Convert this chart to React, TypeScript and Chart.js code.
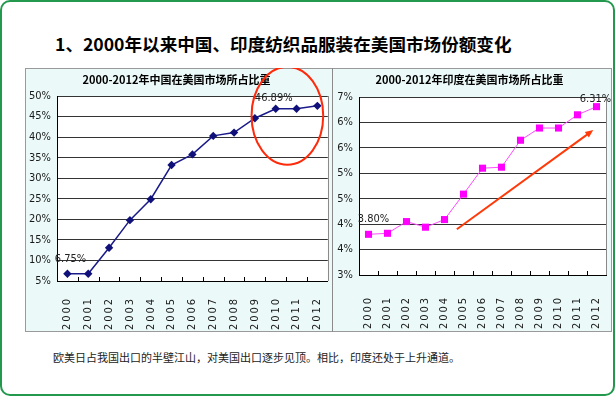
import React, { useEffect, useRef } from 'react';
import { Chart, registerables } from 'chart.js';

Chart.register(...registerables);

// ---------- data ----------
const years = ['2000', '2001', '2002', '2003', '2004', '2005', '2006', '2007', '2008', '2009', '2010', '2011', '2012'];
const chinaShare = [6.75, 6.75, 13.1, 19.8, 24.9, 33.2, 35.8, 40.3, 41.1, 44.6, 46.89, 46.89, 47.6];
const indiaShare = [3.8, 3.82, 4.05, 3.94, 4.09, 4.59, 5.1, 5.12, 5.65, 5.89, 5.89, 6.15, 6.31];

const chinaAxis = { min: 5, max: 50, step: 5 };
const indiaAxis = { min: 3, max: 6.5, step: 0.5 };

const chinaLabelledPoints = [0, 10];
const indiaLabelledPoints = [0, 12];

// annotations, in data units (category index, percent)
const chinaCircle = { x: 10.56, y: 45.2, rx: 1.72, ry: 11.9 };
const indiaArrow = { fromX: 4.65, fromY: 3.9, toX: 11.83, toY: 5.85 };

const pageTitle = '1、2000年以来中国、印度纺织品服装在美国市场份额变化';
const chinaTitle = '2000-2012年中国在美国市场所占比重';
const indiaTitle = '2000-2012年印度在美国市场所占比重';
const footerText = '欧美日占我国出口的半壁江山，对美国出口逐步见顶。相比，印度还处于上升通道。';

const TICK_FONT = '"Liberation Sans Narrow", "DejaVu Sans Condensed", "Arial Narrow", sans-serif';
const CJK_FONT = '"Noto Sans CJK SC", "Noto Sans", sans-serif';

const notesPlugin = {
  id: 'notes',
  beforeDraw(chart: any) {
    const { ctx, chartArea: a } = chart;
    ctx.save();
    ctx.fillStyle = '#ffffff';
    ctx.fillRect(a.left, a.top, a.width, a.height);
    ctx.restore();
  },
  beforeDatasetsDraw(chart: any) {
    const { ctx, chartArea: a, scales } = chart;
    const x = scales.x;
    ctx.save();
    ctx.strokeStyle = '#8a8a8a';
    ctx.lineWidth = 1;
    ctx.beginPath();
    ctx.moveTo(Math.round(a.right) + 0.5, a.top);
    ctx.lineTo(Math.round(a.right) + 0.5, a.bottom);
    ctx.stroke();
    ctx.strokeStyle = '#000';
    ctx.beginPath();
    for (let i = 1; i < years.length; i++) {
      const px = Math.round(x.getPixelForValue(i - 0.5)) + 0.5;
      ctx.moveTo(px, a.bottom);
      ctx.lineTo(px, a.bottom - 4);
    }
    ctx.stroke();
    ctx.restore();
  },
  afterDatasetsDraw(chart: any, _args: any, opts: any) {
    const { ctx, scales } = chart;
    const x = scales.x;
    const y = scales.y;
    const meta = chart.getDatasetMeta(0);
    const values = chart.data.datasets[0].data;
    ctx.save();
    ctx.font = `11px ${TICK_FONT}`;
    ctx.fillStyle = '#222';
    ctx.textAlign = 'center';
    ctx.textBaseline = 'middle';
    (opts.labels || []).forEach((l: any) => {
      const el = meta.data[l.index];
      ctx.fillText(values[l.index].toFixed(2) + '%', el.x + l.dx, el.y + l.dy);
    });
    if (opts.circle) {
      const c = opts.circle;
      const cx = x.getPixelForValue(c.x);
      const cy = y.getPixelForValue(c.y);
      const rx = Math.abs(x.getPixelForValue(c.x + c.rx) - cx);
      const ry = Math.abs(y.getPixelForValue(c.y + c.ry) - cy);
      ctx.strokeStyle = '#ff2a0a';
      ctx.lineWidth = 2;
      ctx.beginPath();
      ctx.ellipse(cx, cy, rx, ry, 0, 0, Math.PI * 2);
      ctx.stroke();
    }
    if (opts.arrow) {
      const r = opts.arrow;
      const x0 = x.getPixelForValue(r.fromX);
      const y0 = y.getPixelForValue(r.fromY);
      const x1 = x.getPixelForValue(r.toX);
      const y1 = y.getPixelForValue(r.toY);
      const ang = Math.atan2(y1 - y0, x1 - x0);
      const head = 8;
      ctx.strokeStyle = '#ff3a0a';
      ctx.fillStyle = '#ff3a0a';
      ctx.lineWidth = 2;
      ctx.beginPath();
      ctx.moveTo(x0, y0);
      ctx.lineTo(x1 - Math.cos(ang) * head * 0.8, y1 - Math.sin(ang) * head * 0.8);
      ctx.stroke();
      ctx.beginPath();
      ctx.moveTo(x1, y1);
      ctx.lineTo(x1 - head * Math.cos(ang) + 3.5 * Math.sin(ang), y1 - head * Math.sin(ang) - 3.5 * Math.cos(ang));
      ctx.lineTo(x1 - head * Math.cos(ang) - 3.5 * Math.sin(ang), y1 - head * Math.sin(ang) + 3.5 * Math.cos(ang));
      ctx.closePath();
      ctx.fill();
    }
    ctx.restore();
  },
};

interface Spec {
  values: number[];
  title: string;
  axis: { min: number; max: number; step: number };
  fmt: (v: number) => string;
  color: string;
  lineColor: string;
  lineWidth: number;
  pointStyle: string;
  pointRadius: number;
  yWidth: number;
  xHeight: number;
  xPad: number;
  padRight: number;
  titleBottom: number;
  notes: any;
}

function buildChart(canvas: HTMLCanvasElement, s: Spec) {
  return new Chart(canvas, {
    type: 'line',
    data: {
      labels: years,
      datasets: [
        {
          data: s.values,
          borderColor: s.lineColor,
          backgroundColor: s.color,
          borderWidth: s.lineWidth,
          pointStyle: s.pointStyle as any,
          pointRadius: s.pointRadius,
          pointBackgroundColor: s.color,
          pointBorderColor: s.color,
          pointBorderWidth: 0,
          tension: 0,
          fill: false,
        },
      ],
    },
    options: {
      animation: false,
      responsive: false,
      events: [],
      layout: { padding: { left: 0, right: s.padRight, top: 0, bottom: 0 } },
      plugins: {
        legend: { display: false },
        tooltip: { enabled: false },
        title: {
          display: true,
          text: s.title,
          color: '#000',
          font: { family: CJK_FONT, size: 11, weight: 'bold' },
          padding: { top: 5.5, bottom: s.titleBottom },
        },
        notes: s.notes,
      } as any,
      scales: {
        x: {
          type: 'category',
          offset: true,
          grid: { display: false },
          border: { display: true, color: '#000', width: 1 },
          ticks: {
            autoSkip: false,
            minRotation: 90,
            maxRotation: 90,
            padding: s.xPad,
            color: '#1a1a1a',
            font: { family: TICK_FONT, size: 11 },
            callback: (_v: any, i: number) => years[i].split('').join('\u2009'),
          },
          afterFit: (sc: any) => {
            sc.height = s.xHeight;
            sc.paddingLeft = 0;
            sc.paddingRight = 0;
          },
        },
        y: {
          min: s.axis.min,
          max: s.axis.max,
          grid: { color: '#333', drawTicks: false, lineWidth: 1 },
          border: { display: true, color: '#000', width: 1 },
          ticks: {
            stepSize: s.axis.step,
            padding: 6,
            color: '#1a1a1a',
            font: { family: TICK_FONT, size: 11 },
            callback: (v: any) => s.fmt(Number(v)),
          },
          afterFit: (sc: any) => {
            sc.width = s.yWidth;
            sc.paddingTop = 0;
            sc.paddingBottom = 0;
          },
        },
      },
    },
    plugins: [notesPlugin as any],
  });
}

function LineCanvas({ spec, width, height }: { spec: Spec; width: number; height: number }) {
  const ref = useRef<HTMLCanvasElement>(null);
  useEffect(() => {
    if (!ref.current) return;
    const chart = buildChart(ref.current, spec);
    return () => chart.destroy();
  }, []);
  return <canvas ref={ref} width={width} height={height} style={{ width, height, display: 'block' }} />;
}

const chinaSpec: Spec = {
  values: chinaShare,
  title: chinaTitle,
  axis: chinaAxis,
  fmt: (v) => `${v}%`,
  color: '#10107a',
  lineColor: '#1a1a8a',
  lineWidth: 1.5,
  pointStyle: 'rectRot',
  pointRadius: 4.2,
  yWidth: 32,
  xHeight: 51,
  xPad: 10,
  padRight: 4,
  titleBottom: 9.3,
  notes: {
    labels: [
      { index: chinaLabelledPoints[0], dx: 3, dy: -15 },
      { index: chinaLabelledPoints[1], dx: -2, dy: -11 },
    ],
    circle: chinaCircle,
  },
};

const indiaSpec: Spec = {
  values: indiaShare,
  title: indiaTitle,
  axis: indiaAxis,
  fmt: (v) => `${Math.round(v)}%`,
  color: '#ff00ff',
  lineColor: '#ff4cff',
  lineWidth: 1,
  pointStyle: 'rect',
  pointRadius: 5,
  yWidth: 26,
  xHeight: 57,
  xPad: 15,
  padRight: 6,
  titleBottom: 10.3,
  notes: {
    labels: [
      { index: indiaLabelledPoints[0], dx: 5, dy: -15 },
      { index: indiaLabelledPoints[1], dx: -1, dy: -8 },
    ],
    arrow: indiaArrow,
  },
};

export default function App() {
  return (
    <div style={{ position: 'absolute', left: 0, top: 0, width: 616, height: 396, background: '#fff', overflow: 'hidden' }}>
      <div
        style={{
          position: 'absolute',
          left: 0,
          top: 0,
          width: 615,
          height: 396,
          border: '2px solid #23994e',
          borderRadius: 10,
          boxSizing: 'border-box',
        }}
      />
      <div
        style={{
          position: 'absolute',
          left: 55,
          top: 33,
          fontFamily: CJK_FONT,
          fontSize: 17.6,
          fontWeight: 'bold',
          lineHeight: '22px',
          color: '#000',
          whiteSpace: 'nowrap',
        }}
      >
        {pageTitle}
      </div>
      <div
        style={{
          position: 'absolute',
          left: 25,
          top: 68,
          width: 587,
          height: 264,
          boxSizing: 'border-box',
          border: '1px solid #9a9a9a',
          background: '#ecf9f9',
        }}
      />
      <div style={{ position: 'absolute', left: 332, top: 68, width: 1, height: 264, background: '#8a8a8a' }} />
      <div style={{ position: 'absolute', left: 25, top: 68 }}>
        <LineCanvas spec={chinaSpec} width={307} height={264} />
      </div>
      <div style={{ position: 'absolute', left: 333, top: 68 }}>
        <LineCanvas spec={indiaSpec} width={279} height={264} />
      </div>
      <div
        style={{
          position: 'absolute',
          left: 53,
          top: 349,
          fontFamily: CJK_FONT,
          fontSize: 11,
          lineHeight: '16px',
          color: '#222',
          whiteSpace: 'nowrap',
        }}
      >
        {footerText}
      </div>
    </div>
  );
}
